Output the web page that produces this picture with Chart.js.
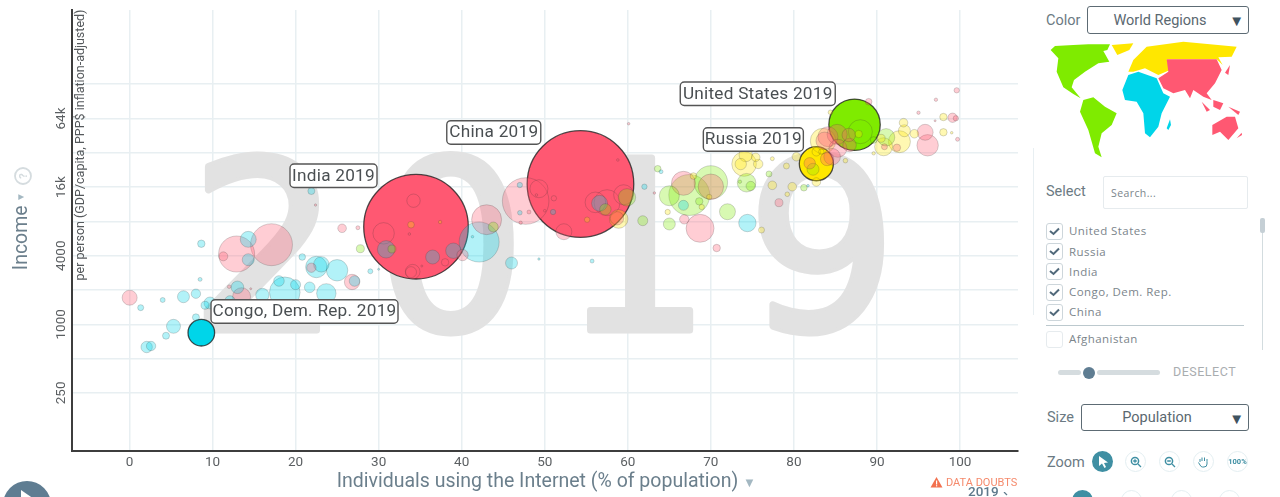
<!DOCTYPE html>
<html><head><meta charset="utf-8">
<script src="https://cdn.jsdelivr.net/npm/chart.js@4"></script>
<style>
html,body{margin:0;padding:0;background:#fff;width:1280px;height:497px;overflow:hidden;font-family:Roboto,sans-serif}
#wrap{position:absolute;left:0;top:0;width:1030px;height:497px}
.t{position:absolute;white-space:nowrap;line-height:1}
.box{position:absolute;border:1px solid #5d6b74;border-radius:3px;box-sizing:border-box;text-align:center;color:#5a6870;font-size:14.5px;background:#fff}
.box .a{position:absolute;right:4px;top:4px;font-size:15px;color:#3f5360}
.cb{position:absolute;left:1046px;width:15px;height:15px;border:1px solid #cdd6db;border-radius:3px;box-sizing:content-box}
.cb svg{position:absolute;left:2px;top:3px}
.lab{left:1069px;font-size:11.5px;color:#7b858b;letter-spacing:.45px;font-family:"Open Sans",sans-serif}
.sb{position:absolute;width:21px;height:21px;border-radius:50%;border:1px solid #e3eef1;box-sizing:border-box;background:#fff}
.ic{position:absolute;left:0;top:0}
</style></head>
<body>
<div id="wrap"><canvas id="c" width="1030" height="497"></canvas></div>

<!-- Axis decorations -->
<div class="t" style="left:743px;top:476px;font-size:13px;color:#a4b8c2">▼</div>
<div class="t" style="left:15.5px;top:192px;font-size:10px;color:#a4b8c2;transform:rotate(-90deg)">▼</div>
<svg class="ic" style="left:13px;top:167px" width="20" height="20" viewBox="0 0 20 20"><circle cx="10" cy="9" r="8" fill="none" stroke="#d5dcdf" stroke-width="1.8"/><text x="10" y="13" font-size="11" font-weight="700" fill="#d5dcdf" text-anchor="middle" transform="rotate(-90 10 9)">?</text></svg>

<svg class="ic" style="left:930px;top:476px" width="13" height="12" viewBox="0 0 13 12"><path d="M6.5 1 L12.5 11.5 L.5 11.5 Z" fill="#f2714f"/><rect x="6" y="4.5" width="1.2" height="4" fill="#fff"/><rect x="6" y="9.2" width="1.2" height="1.2" fill="#fff"/></svg>
<div class="t" style="left:946px;top:477px;font-size:11px;color:#f58a6c">DATA DOUBTS</div>
<div class="t" style="left:968px;top:485px;font-size:13.5px;font-weight:500;color:#5f7a8c">2019</div>
<svg class="ic" style="left:1003px;top:492px" width="6" height="5"><path d="M1 0 L4 3" stroke="#5f7a8c" stroke-width="1.2" fill="none"/></svg>
<svg class="ic" style="left:0;top:470px" width="60" height="27"><circle cx="27" cy="35" r="24" fill="#5f7d92"/><path d="M21 20 L34 29 L21 38 Z" fill="#fff"/></svg>

<!-- Side panel -->
<div class="t" style="left:1046px;top:14px;font-size:14.5px;color:#6b7a83">Color</div>
<div class="box" style="left:1087px;top:6px;width:162px;height:28px;line-height:27px;padding-right:16px">World Regions<span class="a" style="line-height:20px">▼</span></div>

<svg class="ic" style="left:1030px;top:0" width="250" height="250" viewBox="0 0 750 750">
<g fill="#7feb00">
<path d="M62,150 L75,138 L130,135 L175,133 L240,133 L232,150 L220,153 L238,185 L205,190 L165,215 L132,240 L125,262 L152,295 L130,282 L100,262 L80,215 L85,175 Z"/>
<path d="M160,300 L190,292 L225,320 L260,340 L245,375 L215,400 L205,440 L215,472 L195,460 L175,390 L150,335 Z"/>
</g>
<g fill="#ffe700">
<path d="M245,135 L310,130 L298,150 L262,165 Z"/>
<path d="M295,215 L310,180 L350,140 L460,125 L620,140 L605,170 L565,172 L578,195 L560,178 L410,178 L420,210 L385,225 L345,205 L310,215 Z"/>
</g>
<g fill="#00d5e9">
<path d="M277,270 L295,225 L325,215 L380,235 L400,280 L420,290 L395,340 L385,380 L360,412 L345,400 L340,340 L320,305 L285,300 Z"/>
<path d="M410,385 L420,358 L423,375 L415,390 Z"/>
</g>
<g fill="#ff5872">
<path d="M410,178 L560,178 L575,210 L555,250 L530,280 L545,300 L520,290 L490,270 L480,295 L465,270 L430,280 L400,265 L385,235 L415,215 Z"/>
<path d="M585,218 L600,195 L595,225 Z"/>
<path d="M515,305 L540,330 L530,335 Z"/>
<path d="M550,300 L580,310 L570,330 L550,320 Z"/>
<path d="M595,320 L630,335 L625,345 Z"/>
<path d="M547,375 L590,350 L615,350 L625,385 L595,420 L570,395 L547,405 Z"/>
<path d="M620,415 L635,398 L636,405 Z"/>
</g>
</svg>

<div class="t" style="left:1033px;top:148px;width:1px;height:167px;background:#e8eff2"></div>
<div class="t" style="left:1046px;top:185px;font-size:14.5px;color:#6b7a83">Select</div>
<div class="t" style="left:1103px;top:176px;width:145px;height:33px;border:1px solid #e6ebee;border-radius:2px;box-sizing:border-box"></div>
<div class="t" style="left:1111px;top:188px;font-size:10.5px;color:#7b858b;font-family:'Open Sans',sans-serif;letter-spacing:.4px">Search...</div>

<div class="cb" style="top:223px"><svg width="11" height="9"><path d="M1 4 L4.5 7 L10 1.5" fill="none" stroke="#51697a" stroke-width="2"/></svg></div>
<div class="t lab" style="top:225px">United States</div>
<div class="cb" style="top:243px"><svg width="11" height="9"><path d="M1 4 L4.5 7 L10 1.5" fill="none" stroke="#51697a" stroke-width="2"/></svg></div>
<div class="t lab" style="top:245.500px">Russia</div>
<div class="cb" style="top:263px"><svg width="11" height="9"><path d="M1 4 L4.5 7 L10 1.5" fill="none" stroke="#51697a" stroke-width="2"/></svg></div>
<div class="t lab" style="top:266px">India</div>
<div class="cb" style="top:283.500px"><svg width="11" height="9"><path d="M1 4 L4.5 7 L10 1.5" fill="none" stroke="#51697a" stroke-width="2"/></svg></div>
<div class="t lab" style="top:286px">Congo, Dem. Rep.</div>
<div class="cb" style="top:303.500px"><svg width="11" height="9"><path d="M1 4 L4.5 7 L10 1.5" fill="none" stroke="#51697a" stroke-width="2"/></svg></div>
<div class="t lab" style="top:306px">China</div>
<div class="t" style="left:1046px;top:325px;width:198px;height:1px;background:#bcc9ce"></div>
<div class="cb" style="top:331px;border-color:#e6ebee"></div>
<div class="t lab" style="top:333px">Afghanistan</div>
<div class="t" style="left:1262px;top:218px;width:1px;height:132px;background:#d3dcdf"></div>
<div class="t" style="left:1260px;top:218px;width:5px;height:15px;background:#c5cfd5;border-radius:2px"></div>

<div class="t" style="left:1058px;top:370px;width:23px;height:5px;background:#d5dcdf;border-radius:3px"></div>
<div class="t" style="left:1097px;top:370px;width:63px;height:5px;background:#d5dcdf;border-radius:3px"></div>
<div class="t" style="left:1082.500px;top:366.500px;width:12px;height:12px;background:#5f7d92;border-radius:50%"></div>
<div class="t" style="left:1173px;top:366px;font-size:12.5px;color:#a9adaf;letter-spacing:.5px">DESELECT</div>

<div class="t" style="left:1047px;top:411px;font-size:14.5px;color:#6b7a83">Size</div>
<div class="box" style="left:1081px;top:404px;width:168px;height:27px;line-height:26px;padding-right:16px">Population<span class="a" style="line-height:20px">▼</span></div>

<div class="t" style="left:1047px;top:456px;font-size:14.5px;color:#6b7a83">Zoom</div>
<div class="sb" style="left:1092px;top:451px;background:#3f8fa3;border:none"></div>
<svg class="ic" style="left:1097px;top:455px" width="12" height="14"><path d="M2 1 L2 11 L5 8.500 L7.500 13 L9 12 L7 8 L11 7.500 Z" fill="#fff"/></svg>
<div class="sb" style="left:1125px;top:451px"></div>
<svg class="ic" style="left:1130px;top:456px" width="12" height="12"><circle cx="5" cy="5" r="3.600" fill="none" stroke="#3f8fa3" stroke-width="1.500"/><path d="M8 8 L11 11 M3.200 5 H6.800 M5 3.200 V6.800" stroke="#3f8fa3" stroke-width="1.300"/></svg>
<div class="sb" style="left:1159px;top:451px"></div>
<svg class="ic" style="left:1164px;top:456px" width="12" height="12"><circle cx="5" cy="5" r="3.600" fill="none" stroke="#3f8fa3" stroke-width="1.500"/><path d="M8 8 L11 11 M3.200 5 H6.800" stroke="#3f8fa3" stroke-width="1.300"/></svg>
<div class="sb" style="left:1193px;top:451px"></div>
<svg class="ic" style="left:1197px;top:455px" width="13" height="14"><path d="M3 7 V4 M5 6 V2.500 M7.500 6 V2.500 M10 6.500 V4 M10 6.500 V9 Q10 12 7 12 H5.500 Q4 12 3 10 L1.500 7.500" fill="none" stroke="#3f8fa3" stroke-width="1"/></svg>
<div class="sb" style="left:1227px;top:451px"></div>
<div class="t" style="left:1228px;top:458px;width:19px;text-align:center;font-size:7.500px;font-weight:700;color:#3f8fa3">100%</div>

<div class="sb" style="left:1072px;top:490px;background:#3f8fa3;border:none"></div>
<div class="sb" style="left:1121px;top:490px"></div>
<div class="sb" style="left:1171px;top:490px"></div>
<div class="sb" style="left:1219px;top:490px"></div>

<script>
// Axis ticks and labels
const xTickValues = [0,10,20,30,40,50,60,70,80,90,100];
const yTickValues = [250,500,1000,2000,4000,8000,16000,32000,64000,128000];
const yTickLabels = {250:'250',1000:'1000',4000:'4000',16000:'16k',64000:'64k'};
const yearText = '2019';

// Africa: internet %, income, population (millions)
const africaInternet = [1.35,4.0,6.5,8.0,8.65,8.5,9.7,9.1,8.0,5.3,4.4,2.07,2.6,14.3,14.3,20.8,22.5,23.1,25.0,27.1,21.7,23.7,18.7,18.0,20.0,16.0,13.0,12.1,29.0,30.0,21.9,30.9,36.5,39.0,42.1,41.3,46.0,49.3,55.7,47.0,47.0,51.0,56.6,62.0,64.0,66.7,74.4,81.7];
const africaIncome = [1400,1634,1746,1856,5096,2480,1538,1468,1152,960,794,632,645,5568,3688,3896,3184,3360,2980,2400,2112,1870,1910,2400,2228,1808,2112,1612,2920,3040,14784,4552,3896,4424,5276,5872,3452,3740,3590,16688,9536,9672,11536,16130,21856,11072,7744,16464];
const africaPop = [4.4,3,17.5,10.7,6.7,1.9,17.5,7.8,6,23.8,6,15.8,10.7,31,17.5,5.3,55.7,28.8,55.7,13.7,13.7,45.8,114,13.7,12.2,21.8,19.3,12.2,3,0.5,6,36.8,23.8,28.8,195,0.8,17.5,0.7,1.9,3.5,2.6,3.5,31,3.5,1.9,12.2,36.8,0.8];

// Asia
const asiaInternet = [0.02,12.9,17.1,11.3,21.9,26.8,13.5,12.0,14.6,25.6,27.5,22.4,34.2,30.6,33.7,38.0,40.1,34.1,33.9,35.2,43.0,47.7,48.1,47.1,49.3,49.0,51.1,50.0,52.3,58.8,56.1,57.5,59.5,58.7,63.2,66.7,70.0,66.8,68.7,70.7,78.2,81.9,84.0,84.6,83.7,84.1,85.3,86.7,85.2,86.6,89.0,90.9,92.4,95.8,96.1,95.0,97.1,99.1,99.5,99.7,99.6,97.0,60.1];
const asiaIncome = [1712,4140,4996,3950,3140,2352,1746,2138,2052,6960,7040,11136,12160,6288,6200,3500,4056,2896,2870,3248,8280,12080,9672,7792,15488,13648,12768,9928,6496,27680,11760,11680,13712,8520,14208,17280,16128,8344,6960,4672,11680,25888,28224,29568,40832,44288,35072,37440,46464,45888,89856,36160,35456,48448,37248,71936,93568,65000,64260,42048,113152,61184,57600];
const asiaPop = [27.4,158,214,9.8,10.7,28.8,39.4,1.6,0.5,9,1.9,0.7,21.8,55.7,0.8,6.7,15.8,26,14.7,0.5,109,264,1.9,1.4,39.4,0.8,3.5,0.8,31,0.8,51.6,82,48.6,21.8,0.8,70,78.4,10.7,95,6.7,7.8,15.8,21.8,33.5,36.8,48.6,39.4,21.8,48.6,21.8,5.3,4.4,6.7,31,55.7,1.4,1.4,10.7,3.5,1.9,3.5,0.5,0.8];

// Americas
const americasInternet = [27.8,31.6,43.8,57.3,59.9,61.8,63.6,65.0,67.4,70.0,68.6,65.0,72.0,74.3,74.8,73.5,77.0,81.2,82.3,88.0,89.6,91.1];
const americasIncome = [4608,4580,7144,10208,13008,8112,23200,13440,13648,17600,12000,7592,9728,17488,16352,17840,20864,15800,22944,49024,41472,43776];
const americasPop = [7.8,7.8,12.2,15.8,36.8,12.2,5.3,48.6,204,136,6.7,17.5,31,42,10.7,1.4,4.4,5.3,17.5,70,5.3,36.8];

// Europe
const europeInternet = [33.9,37.4,55.1,58.9,67.9,69.8,68.9,64.8,76.1,74.0,73.6,74.2,75.4,75.7,77.4,77.4,79.1,79.2,79.8,80.3,82.7,83.3,82.7,86.2,83.5,87.8,84.4,89.6,90.5,90.8,92.7,93.2,93.3,94.5,98.0,98.0,99.0];
const europeIncome = [7480,7900,8280,8400,20016,13104,10704,9672,6720,25536,25500,30592,29216,25536,16592,28416,24512,13840,16130,29568,32704,32704,17728,27296,40640,46784,72512,31680,42880,36160,40064,58816,49984,47040,65920,48448,48000];
const europePop = [5.3,1.4,3.5,42,5.3,3.5,3.5,3.5,4.4,73.6,15.8,21.8,9,10.7,9,1.9,4.4,2.6,9,9,9,3.5,9,2.6,78.4,6.7,2.6,1.4,7.8,39.4,58.8,9,17.5,9,6.7,6.7,0.8];

// Highlighted countries
const selectedNames = ['United States','Russia','India','Congo, Dem. Rep.','China'];
const selectedRegion = ['americas','europe','asia','africa','asia'];
const selectedInternet = [87.3,82.7,34.5,8.65,54.3];
const selectedIncome = [56448,25664,7192,844,17040];
const selectedPop = [321,141,1330,86,1382];

const regionColors = {asia:'255,88,114',africa:'0,213,233',americas:'127,235,0',europe:'255,231,0'};
const radiusPerSqrtPop = 1.434;

function rows(region, xs, ys, ps){
  return xs.map((v,i)=>({x:v, y:ys[i], pop:ps[i], region, sel:false}));
}
const points = [
  ...rows('africa',africaInternet,africaIncome,africaPop),
  ...rows('asia',asiaInternet,asiaIncome,asiaPop),
  ...rows('americas',americasInternet,americasIncome,americasPop),
  ...rows('europe',europeInternet,europeIncome,europePop),
  ...selectedNames.map((n,i)=>({x:selectedInternet[i],y:selectedIncome[i],pop:selectedPop[i],region:selectedRegion[i],sel:true,name:n}))
].sort((a,b)=>b.pop-a.pop);

const FONT = 'Roboto, sans-serif';

const watermark = {
  id:'watermark',
  beforeDatasetsDraw(chart){
    const c = chart.ctx;
    c.save();
    c.font = '400 236px "DejaVu Sans", sans-serif';
    c.letterSpacing = '35.5px';
    c.textAlign = 'left';
    c.textBaseline = 'alphabetic';
    c.fillStyle = '#e2e2e2';
    c.strokeStyle = '#e2e2e2';
    c.lineJoin = 'round';
    c.lineWidth = 7;
    c.strokeText(yearText, 190, 329.5);
    c.fillText(yearText, 190, 329.5);
    c.restore();
  }
};

// where each name tag sits relative to its bubble centre
const tagPlacement = {
  'United States':{left:-174.3,top:-42.7,w:155},
  'Russia':{left:-113,top:-36,w:100},
  'India':{left:-126,top:-62.7,w:87},
  'Congo, Dem. Rep.':{left:9.7,top:-33,w:187},
  'China':{left:-133.7,top:-63.3,w:94}
};
const tags = {
  id:'tags',
  afterDatasetsDraw(chart){
    const c = chart.ctx, xs = chart.scales.x, ys = chart.scales.y;
    c.save();
    c.font = '400 17.2px ' + FONT;
    c.letterSpacing = '0.25px';
    c.textBaseline = 'middle';
    c.textAlign = 'center';
    selectedNames.forEach((n,i)=>{
      const p = tagPlacement[n];
      const l = xs.getPixelForValue(selectedInternet[i]) + p.left;
      const t = ys.getPixelForValue(selectedIncome[i]) + p.top;
      c.beginPath();
      c.roundRect(l,t,p.w,23.5,4);
      c.fillStyle = '#ffffff';
      c.fill();
      c.lineWidth = 1.4;
      c.strokeStyle = '#555';
      c.stroke();
      c.fillStyle = '#4a4f52';
      c.fillText(n + ' ' + yearText, l + p.w/2, t + 12.3);
    });
    c.restore();
  }
};

function noPadding(s){s.paddingLeft=0;s.paddingRight=0;s.paddingTop=0;s.paddingBottom=0;}

new Chart(document.getElementById('c'),{
  type:'bubble',
  data:{datasets:[{
    data:points,
    backgroundColor:ctx=>{const d=ctx.raw; return d?`rgba(${regionColors[d.region]},${d.sel?1:0.3})`:'transparent';},
    borderColor:ctx=>{const d=ctx.raw; return d&&d.sel?'rgba(30,30,30,0.78)':'rgba(50,50,50,0.2)';},
    borderWidth:ctx=>{const d=ctx.raw; return d&&d.sel?1.3:1;},
    radius:ctx=>{const d=ctx.raw; return d?radiusPerSqrtPop*Math.sqrt(d.pop):0;},
    hoverRadius:ctx=>{const d=ctx.raw; return d?radiusPerSqrtPop*Math.sqrt(d.pop):0;}
  }]},
  options:{
    responsive:false,animation:false,
    events:[],
    layout:{autoPadding:false,padding:{left:0,right:12,top:10,bottom:0}},
    plugins:{legend:{display:false},tooltip:{enabled:false}},
    scales:{
      x:{
        type:'linear',min:-6.98,max:106.98,
        afterBuildTicks(s){s.ticks=xTickValues.map(v=>({value:v}));},
        afterFit(s){s.height=46;noPadding(s);},
        grid:{color:'#e8eff2',lineWidth:1.5,drawTicks:false},
        border:{color:'#3d3d3d',width:2},
        ticks:{autoSkip:false,maxRotation:0,padding:4,color:'#5b5f62',font:{family:FONT,size:13.5},callback:v=>String(v)},
        title:{display:true,text:'Individuals using the Internet (% of population)\u00a0\u00a0\u00a0',color:'#6b7f8c',font:{family:FONT,size:19.5},padding:{top:0,bottom:3.5}}
      },
      y:{
        type:'logarithmic',min:77.3,max:573400,
        afterBuildTicks(s){s.ticks=yTickValues.map(v=>({value:v}));},
        afterFit(s){s.width=71.5;noPadding(s);},
        grid:{color:'#e8eff2',lineWidth:1.5,drawTicks:false},
        border:{color:'#3d3d3d',width:2},
        ticks:{autoSkip:false,minRotation:90,maxRotation:90,crossAlign:'center',padding:-5,color:'#5b5f62',font:{family:FONT,size:13.5},callback:v=>yTickLabels[v]||''},
        title:{display:true,text:'Income\u00a0\u00a0\u00a0',color:'#6b7f8c',font:{family:FONT,size:19.5},padding:{top:10.5,bottom:0}}
      }
    }
  },
  plugins:[watermark,tags,{
    id:'subtitle',
    afterDraw(chart){
      const c=chart.ctx;
      c.save();
      c.translate(80.5,145);
      c.rotate(-Math.PI/2);
      c.font='400 12.5px '+FONT;
      c.fillStyle='#55595c';
      c.textAlign='center';
      c.textBaseline='middle';
      c.fillText('per person (GDP/capita, PPP$ inflation-adjusted)',0,0);
      c.restore();
    }
  }]
});
</script>
</body></html>
